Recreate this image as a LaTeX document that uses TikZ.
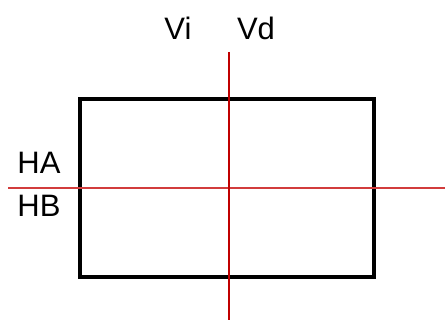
\documentclass[tikz,border=0pt]{standalone}
\usepackage{fontspec}
\setmainfont{Liberation Sans}
\usetikzlibrary{positioning}
\definecolor{vred}{RGB}{192,0,0}
\definecolor{hred}{RGB}{210,60,60}

\begin{document}
\begin{tikzpicture}[x=1pt,y=-1pt,
    lbl/.style={font=\fontsize{31}{31}\selectfont,inner sep=0pt}]
        \useasboundingbox (0,0) rectangle (445,320);
        \node[draw,line width=4.5pt,minimum width=294pt,minimum height=178pt,inner sep=0pt] (box) at (227,188) {};
        \coordinate (vtop) at (229,52); \coordinate (vbot) at (229,320);
        \coordinate (hl) at (8,188); \coordinate (hr) at (445,188);
        \draw[hred,line width=1.8pt] (hl) -- (hr);
        \draw[vred,line width=2.4pt] (vtop) -- (vbot);
        \node[lbl] (vi) at (178,28) {Vi}; \node[lbl] (vd) at (256,28) {Vd};
        \node[lbl] (ha) at (39,163) {HA}; \node[lbl] (hb) at (39,206) {HB};
        \end{tikzpicture}
\end{document}
